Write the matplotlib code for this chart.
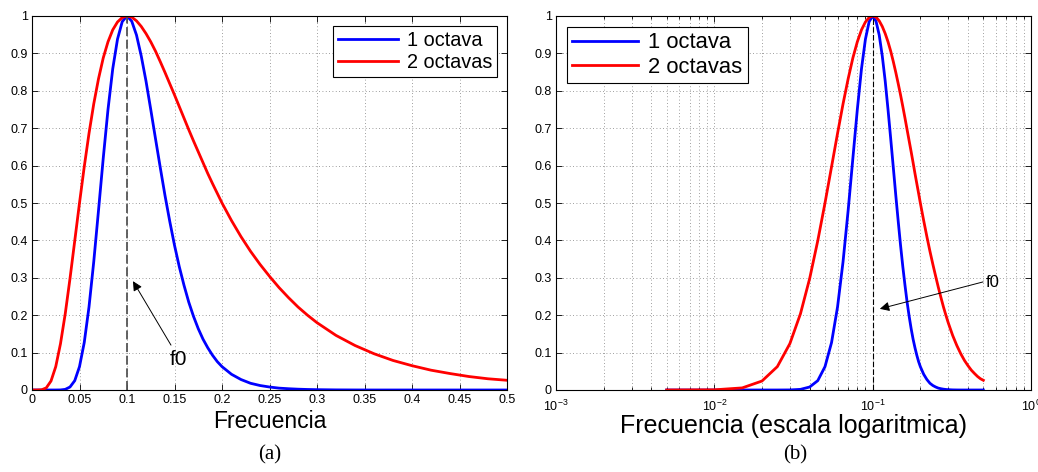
import numpy as np
import matplotlib
matplotlib.use("Agg")
import matplotlib.pyplot as plt
from matplotlib.ticker import FormatStrFormatter, LogLocator

plt.rcParams['font.family'] = ['Liberation Sans', 'DejaVu Sans']
plt.rcParams['mathtext.fontset'] = 'custom'
plt.rcParams['mathtext.rm'] = 'Liberation Sans'

# frecuencias normalizadas (f0 = 0.1)
freq = [0.0,
        0.005, 0.01, 0.015, 0.02, 0.025, 0.03, 0.035, 0.04, 0.045, 0.05,
        0.055, 0.06, 0.065, 0.07, 0.075, 0.08, 0.085, 0.09, 0.095, 0.1,
        0.105, 0.11, 0.115, 0.12, 0.125, 0.13, 0.135, 0.14, 0.145, 0.15,
        0.155, 0.16, 0.165, 0.17, 0.175, 0.18, 0.185, 0.19, 0.195, 0.2,
        0.21, 0.22, 0.23, 0.24, 0.25, 0.26, 0.27, 0.28, 0.29, 0.3,
        0.32, 0.34, 0.36, 0.38, 0.4, 0.42, 0.44, 0.46, 0.48, 0.5]

# respuesta, ancho de banda 1 octava
oct1 = [0.0,
        0.0, 0.0, 0.0, 0.0, 0.0, 0.0002, 0.0017, 0.008, 0.025, 0.0625,
        0.127, 0.222, 0.343, 0.48, 0.62, 0.75, 0.859, 0.938, 0.985, 1.0,
        0.986, 0.949, 0.893, 0.826, 0.75, 0.672, 0.595, 0.52, 0.451, 0.387,
        0.33, 0.28, 0.235, 0.197, 0.164, 0.136, 0.113, 0.093, 0.076, 0.0625,
        0.042, 0.028, 0.018, 0.012, 0.008, 0.005, 0.0034, 0.0022, 0.0014, 0.0009,
        0.0003, 0.0001, 0.0, 0.0, 0.0, 0.0, 0.0, 0.0, 0.0, 0.0]

# respuesta, ancho de banda 2 octavas
oct2 = [0.0,
        0.0, 0.0005, 0.0056, 0.024, 0.0625, 0.124, 0.204, 0.298, 0.399, 0.5,
        0.597, 0.686, 0.765, 0.832, 0.888, 0.931, 0.963, 0.984, 0.996, 1.0,
        0.997, 0.987, 0.972, 0.953, 0.931, 0.906, 0.878, 0.849, 0.819, 0.789,
        0.758, 0.727, 0.696, 0.666, 0.637, 0.608, 0.579, 0.552, 0.526, 0.5,
        0.453, 0.41, 0.371, 0.336, 0.304, 0.274, 0.247, 0.222, 0.2, 0.18,
        0.146, 0.119, 0.097, 0.079, 0.065, 0.053, 0.044, 0.036, 0.03, 0.026]

f0 = 0.1
labels = ['1 octava', '2 octavas']

W, H = 1038, 472
fig = plt.figure(figsize=(W / 100, H / 100), dpi=100)
ax1 = fig.add_axes([32 / W, 82 / H, 475 / W, 374 / H])
ax2 = fig.add_axes([556 / W, 82 / H, 475 / W, 374 / H])

grid_kw = dict(color='#7f7f7f', linestyle=(0, (1, 3)), linewidth=0.6)


def style_axes(ax):
    ax.tick_params(which='both', direction='in', top=True, right=True,
                   labelsize=9, pad=3, width=0.6)
    ax.tick_params(which='major', length=4)
    ax.tick_params(which='minor', length=2)
    for s in ax.spines.values():
        s.set_linewidth(0.8)
    ax.set_axisbelow(True)


def add_legend(ax, loc, size):
    leg = ax.legend(loc=loc, fontsize=size, handlelength=3.0,
                    handletextpad=0.45, borderpad=0.25, labelspacing=0.15,
                    fancybox=False, edgecolor='k', framealpha=1,
                    borderaxespad=0.5)
    leg.get_frame().set_linewidth(0.8)
    return leg


# (a) escala lineal
ax1.plot(freq, oct1, color='#0000ff', lw=2, label=labels[0])
ax1.plot(freq, oct2, color='#ff0000', lw=2, label=labels[1])
ax1.plot([f0, f0], [0, 1], color='#555555', lw=1.3, dashes=(5, 2))
ax1.set_xlim(0, 0.5)
ax1.set_ylim(0, 1)
ax1.set_xticks(np.arange(0, 0.51, 0.05))
ax1.set_yticks(np.arange(0, 1.01, 0.1))
ax1.xaxis.set_major_formatter(FormatStrFormatter('%g'))
ax1.yaxis.set_major_formatter(FormatStrFormatter('%g'))
ax1.grid(True, **grid_kw)
style_axes(ax1)
ax1.set_xlabel('Frecuencia', fontsize=16.5, labelpad=3)
ax1.annotate('', xy=(0.1063, 0.291), xytext=(0.1463, 0.12),
             arrowprops=dict(arrowstyle='-|>', color='k', lw=0.7,
                             mutation_scale=14, shrinkA=0, shrinkB=0))
ax1.text(0.145, 0.066, 'f0', fontsize=15, ha='left', va='baseline')
add_legend(ax1, 'upper right', 14.3)

# (b) escala logaritmica
ax2.plot(freq[1:], oct1[1:], color='#0000ff', lw=2, label=labels[0])
ax2.plot(freq[1:], oct2[1:], color='#ff0000', lw=2, label=labels[1])
ax2.plot([f0, f0], [0, 1], color='k', lw=0.8, dashes=(5, 2))
ax2.set_xscale('log')
ax2.set_xlim(1e-3, 1)
ax2.set_ylim(0, 1)
ax2.xaxis.set_major_locator(LogLocator(base=10, numticks=10))
ax2.xaxis.set_minor_locator(LogLocator(base=10, subs=np.arange(2, 10), numticks=40))
ax2.set_yticks(np.arange(0, 1.01, 0.1))
ax2.yaxis.set_major_formatter(FormatStrFormatter('%g'))
ax2.grid(True, which='major', **grid_kw)
ax2.grid(True, which='minor', axis='x', **grid_kw)
style_axes(ax2)
ax2.tick_params(axis='x', which='major', pad=6)
ax2.set_xlabel('Frecuencia (escala logaritmica)', fontsize=18, labelpad=0)
ax2.annotate('', xy=(0.111, 0.217), xytext=(0.498, 0.289),
             arrowprops=dict(arrowstyle='-|>', color='k', lw=0.7,
                             mutation_scale=14, shrinkA=0, shrinkB=0))
ax2.text(0.52, 0.275, 'f0', fontsize=12, ha='left', va='baseline')
add_legend(ax2, 'upper left', 15.8)

fig.text(270 / W, 1 - 455 / H, '(a)', fontsize=15, family='Liberation Serif',
         ha='center', va='center')
fig.text(795 / W, 1 - 455 / H, '(b)', fontsize=15, family='Liberation Serif',
         ha='center', va='center')

fig.savefig('out.png', dpi=100)
